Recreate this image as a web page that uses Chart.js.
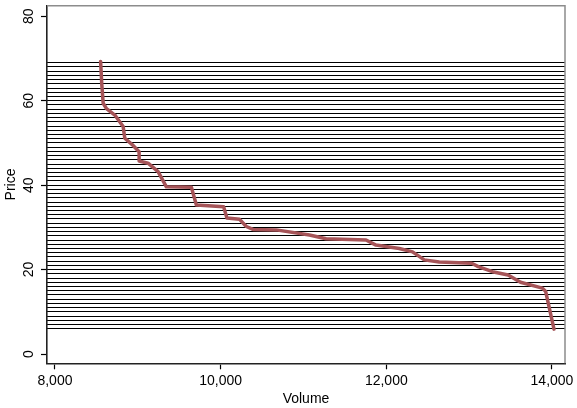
<!DOCTYPE html>
<html>
<head>
<meta charset="utf-8">
<script src="https://cdn.jsdelivr.net/npm/chart.js@4"></script>
<style>
  html, body { margin: 0; padding: 0; background: #fff; }
  canvas { display: block; }
</style>
</head>
<body>
<canvas id="c" width="577" height="408"></canvas>
<script>
// Cumulative volume (x) against price (y)
const volume = [8551, 8565, 8582, 8622, 8723, 8823, 8843, 8943, 9016, 9016, 9124, 9245, 9345, 9647, 9707, 10036, 10076, 10229, 10310, 10390, 10671, 11072, 11273, 11755, 11875, 12157, 12317, 12458, 12639, 13030, 13110, 13281, 13470, 13620, 13884, 13924, 14024];
const price  = [69.3, 64.0, 59.4, 58.1, 56.6, 53.9, 51.1, 49.4, 47.9, 45.7, 45.2, 43.2, 39.6, 39.5, 35.3, 34.9, 32.2, 31.9, 30.2, 29.5, 29.4, 28.2, 27.3, 27.0, 25.8, 25.0, 24.2, 22.3, 21.8, 21.5, 20.7, 19.5, 18.7, 17.0, 15.6, 14.8, 5.9];
// Horizontal price-level lines
const priceLevels = [6,7,8,9,10,11,12,13,14,15,16,17,18,19,20,21,22,23,24,25,26,27,28,29,30,31,32,33,34,35,36,37,38,39,40,41,42,43,44,45,46,47,48,49,50,51,52,53,54,55,56,57,58,59,60,61,62,63,64,65,66,67,68,69];
const xTicks = [8000, 10000, 12000, 14000];
const yTicks = [0, 20, 40, 60, 80];

const FONT = '"Liberation Sans", Arial, sans-serif';
const Y_MIN = -2.2, Y_MAX = 82.5, X_MIN = 7904, X_MAX = 14157;

const points = volume.map((v, i) => ({ x: v, y: price[i] }));

const framePlugin = {
  id: 'frame',
  afterDraw(chart) {
    const ctx = chart.ctx, a = chart.chartArea, ys = chart.scales.y;
    ctx.save();
    ctx.strokeStyle = '#8c8c8c';
    ctx.lineWidth = 1.5;
    ctx.beginPath();
    ctx.moveTo(a.left, a.top);
    ctx.lineTo(a.right, a.top);
    ctx.lineTo(a.right, a.bottom);
    ctx.stroke();
    ctx.fillStyle = '#000';
    ctx.font = '14px ' + FONT;
    ctx.textAlign = 'center';
    ctx.textBaseline = 'middle';
    yTicks.forEach(v => {
      ctx.save();
      ctx.translate(29, ys.getPixelForValue(v));
      ctx.rotate(-Math.PI / 2);
      ctx.fillText(v.toLocaleString('en-US'), 0, 0);
      ctx.restore();
    });
    ctx.save();
    ctx.translate(11, (a.top + a.bottom) / 2);
    ctx.rotate(-Math.PI / 2);
    ctx.fillText('Price', 0, 0);
    ctx.restore();
    ctx.restore();
  }
};

new Chart(document.getElementById('c'), {
  type: 'line',
  data: {
    datasets: [{
      data: points,
      borderColor: 'rgb(165, 84, 88)',
      borderWidth: 3.5,
      borderCapStyle: 'round',
      borderJoinStyle: 'round',
      pointRadius: 0,
      tension: 0,
      fill: false
    }]
  },
  options: {
    responsive: false,
    devicePixelRatio: 1,
    animation: false,
    events: [],
    plugins: { legend: { display: false }, tooltip: { enabled: false } },
    layout: { padding: { left: 0, top: 5.7, right: 12, bottom: 0 } },
    scales: {
      x: {
        type: 'linear',
        min: X_MIN, max: X_MAX,
        afterBuildTicks: s => { s.ticks = xTicks.map(v => ({ value: v })); },
        afterFit: s => { s.height = 44.7; },
        ticks: {
          color: '#000',
          font: { family: FONT, size: 14 },
          padding: 3,
          maxRotation: 0,
          callback: v => v.toLocaleString('en-US')
        },
        grid: { drawOnChartArea: false, drawTicks: true, tickLength: 6, tickColor: '#000', tickWidth: 1.2 },
        border: { display: true, color: '#222', width: 1.6 },
        title: { display: true, text: 'Volume', color: '#000', font: { family: FONT, size: 14 }, padding: { top: 0, bottom: 0 } }
      },
      y: {
        type: 'linear',
        position: 'left',
        min: Y_MIN, max: Y_MAX,
        afterBuildTicks: s => { s.ticks = yTicks.map(v => ({ value: v })); },
        afterFit: s => { s.width = 47; },
        ticks: { display: false },
        grid: { drawOnChartArea: false, drawTicks: true, tickLength: 6, tickColor: '#000', tickWidth: 1.2 },
        border: { display: true, color: '#222', width: 1.6 }
      },
      yl: {
        type: 'linear',
        position: 'left',
        min: Y_MIN, max: Y_MAX,
        afterBuildTicks: s => { s.ticks = priceLevels.map(v => ({ value: v })); },
        afterFit: s => { s.width = 0; },
        ticks: { display: false },
        grid: { drawOnChartArea: true, drawTicks: false, color: '#000', lineWidth: 1 },
        border: { display: false }
      }
    }
  },
  plugins: [framePlugin]
});
</script>
</body>
</html>
